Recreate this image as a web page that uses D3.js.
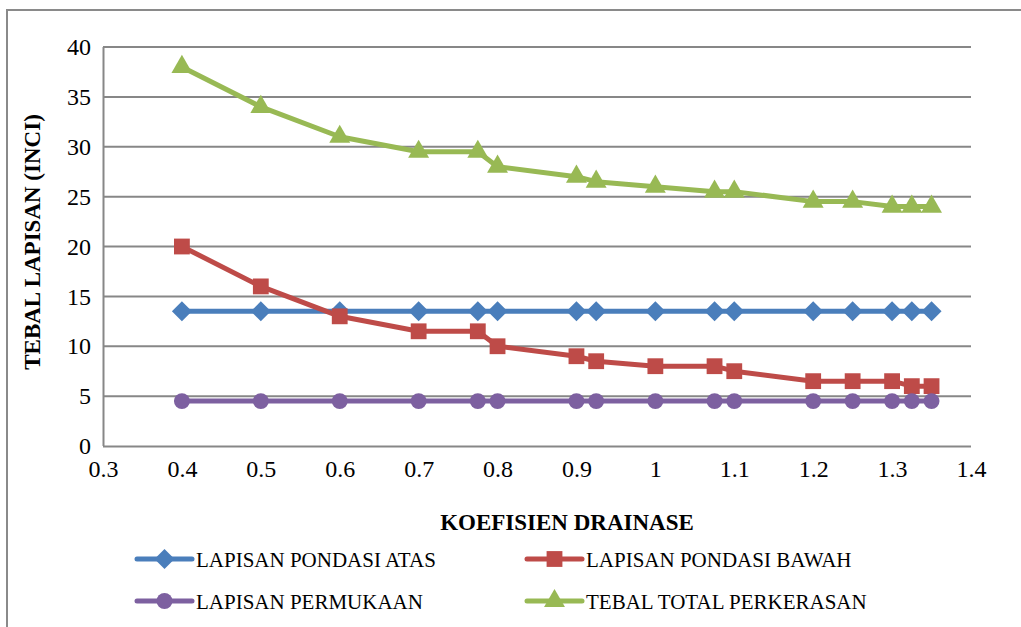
<!DOCTYPE html>
<html><head><meta charset="utf-8">
<script src="https://cdn.jsdelivr.net/npm/d3@7"></script>
<style>
body{margin:0;background:#fff}
svg{display:block}
svg text{font-family:'Liberation Serif','Times New Roman',serif !important}
</style>
</head><body>
<svg id="c" width="1021" height="627"></svg>
<script>
const xValues = [0.4,0.5,0.6,0.7,0.775,0.8,0.9,0.925,1.0,1.075,1.1,1.2,1.25,1.3,1.325,1.35];
const pondasiAtas = [13.5,13.5,13.5,13.5,13.5,13.5,13.5,13.5,13.5,13.5,13.5,13.5,13.5,13.5,13.5,13.5];
const pondasiBawah = [20,16,13,11.5,11.5,10,9,8.5,8,8,7.5,6.5,6.5,6.5,6,6];
const permukaan = [4.5,4.5,4.5,4.5,4.5,4.5,4.5,4.5,4.5,4.5,4.5,4.5,4.5,4.5,4.5,4.5];
const totalPerkerasan = [38,34,31,29.5,29.5,28,27,26.5,26,25.5,25.5,24.5,24.5,24,24,24];
const xTicks = [0.3,0.4,0.5,0.6,0.7,0.8,0.9,1,1.1,1.2,1.3,1.4];
const yTicks = [0,5,10,15,20,25,30,35,40];
const seriesNames = ["LAPISAN PONDASI ATAS","LAPISAN PONDASI BAWAH","LAPISAN PERMUKAAN","TEBAL TOTAL PERKERASAN"];
const xTitle = "KOEFISIEN DRAINASE";
const yTitle = "TEBAL LAPISAN (INCI)";

const series = [
  {name: seriesNames[0], values: pondasiAtas, color:"#4A7EBB", marker:"diamond"},
  {name: seriesNames[1], values: pondasiBawah, color:"#BE4B48", marker:"square"},
  {name: seriesNames[2], values: permukaan, color:"#7D60A0", marker:"circle"},
  {name: seriesNames[3], values: totalPerkerasan, color:"#98B954", marker:"triangle"}
];

const FONT = "'Liberation Serif', 'Times New Roman', serif";
const svg = d3.select("#c");
svg.append("path").attr("d","M7,627 V10 H1021").attr("fill","none").attr("stroke","#8a8a8a").attr("stroke-width",2);

const L=103,R=971,T=47,B=446;
const x = d3.scaleLinear().domain([0.3,1.4]).range([L,R]);
const y = d3.scaleLinear().domain([0,40]).range([B,T]);

svg.append("g").selectAll("line").data(yTicks.filter(d=>d>0)).join("line")
  .attr("x1",L).attr("x2",R).attr("y1",d=>y(d)).attr("y2",d=>y(d))
  .attr("stroke","#878787").attr("stroke-width",2);

const xAxis = svg.append("g").attr("transform",`translate(0,${B})`)
  .call(d3.axisBottom(x).tickValues(xTicks).tickSize(0).tickPadding(14).tickFormat(d=>String(+d.toFixed(2))));
const yAxis = svg.append("g").attr("transform",`translate(${L},0)`)
  .call(d3.axisLeft(y).tickValues(yTicks).tickSize(0).tickPadding(12));
[xAxis,yAxis].forEach(a=>{
  a.attr("font-family",null).attr("font-size",24);
  a.select(".domain").attr("stroke","#878787").attr("stroke-width",2);
  a.selectAll("text").attr("fill","#000").style("font-family",FONT,"important").style("font-size","24px");
});
xAxis.select(".domain").attr("d",`M${L},0.5H${R}`);
yAxis.select(".domain").attr("d",`M0.5,${B}V${T}`);

const markerPath = {
  diamond: "M0,-10L10,0L0,10L-10,0Z",
  square: d3.symbol().type(d3.symbolSquare).size(250)(),
  circle: d3.symbol().type(d3.symbolCircle).size(200)(),
  triangle: d3.symbol().type(d3.symbolTriangle).size(190)()
};

const line = d3.line().x((d,i)=>x(xValues[i])).y(d=>y(d));
series.forEach(s=>{
  const g = svg.append("g");
  g.append("path").attr("d",line(s.values)).attr("fill","none").attr("stroke",s.color).attr("stroke-width",5).attr("stroke-linejoin","round");
  g.selectAll("path.m").data(s.values).join("path").attr("class","m")
    .attr("d",markerPath[s.marker])
    .attr("transform",(d,i)=>`translate(${x(xValues[i])},${y(d)})`)
    .attr("fill",s.color);
});

svg.append("text").attr("x",567).attr("y",530).attr("text-anchor","middle")
  .style("font-family",FONT,"important").style("font-weight","bold").style("font-size","23px").text(xTitle);
svg.append("text").attr("transform","translate(40,242) rotate(-90)").attr("text-anchor","middle")
  .style("font-family",FONT,"important").style("font-weight","bold").style("font-size","23px").text(yTitle);

const legPos = [[137,559],[527,559],[137,601],[527,601]];
series.forEach((s,i)=>{
  const [lx,ly] = legPos[i];
  const g = svg.append("g");
  g.append("line").attr("x1",lx).attr("x2",lx+55).attr("y1",ly).attr("y2",ly).attr("stroke",s.color).attr("stroke-width",5).attr("stroke-linecap","round");
  g.append("path").attr("d",markerPath[s.marker]).attr("transform",`translate(${lx+27.5},${ly})`).attr("fill",s.color);
  g.append("text").attr("x",lx+59).attr("y",ly+8).style("font-family",FONT,"important").style("font-size","21px").text(s.name);
});
</script>
</body></html>
